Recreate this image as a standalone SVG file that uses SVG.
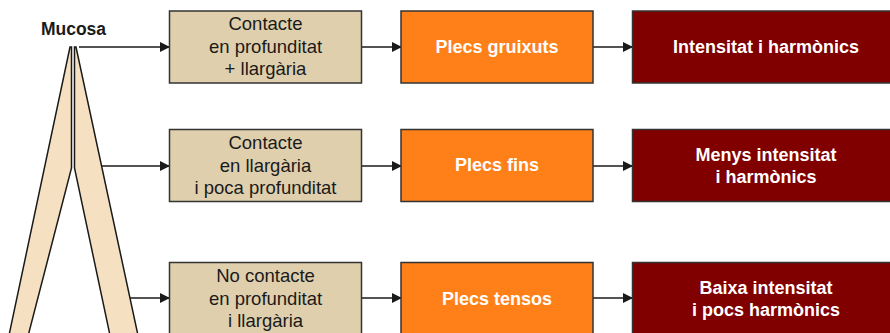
<svg xmlns="http://www.w3.org/2000/svg" width="890" height="333" viewBox="0 0 890 333">
  <defs>
    <marker id="arrow" markerWidth="10" markerHeight="10" refX="9" refY="5" orient="auto" markerUnits="userSpaceOnUse">
      <path d="M0,0 L10,5 L0,10 Z" fill="#1a1a1a"/>
    </marker>
    <style>
      text { font-family: "Liberation Sans", Arial, sans-serif; font-size: 18.5px; text-anchor: middle; }
      .tan { fill: #E0CFAD; stroke: #333; stroke-width: 1.5; }
      .orange { fill: #FF7F18; stroke: #333; stroke-width: 1.5; }
      .red { fill: #800000; stroke: #333; stroke-width: 1.5; }
      .dark { fill: #1a1a1a; }
      .white { fill: #fff; font-weight: bold; font-size: 18px; }
      .fold { fill: #F5E1C2; stroke: #1a1a1a; stroke-width: 1.5; stroke-linejoin: miter; }
      .conn { stroke: #1a1a1a; stroke-width: 1.5; fill: none; marker-end: url(#arrow); }
    </style>
  </defs>
  <rect width="890" height="333" fill="#fff"/>

  <!-- vocal fold mucosa -->
  <g id="mucosa">
    <polygon class="fold" points="70,47 71.5,47 71.5,168 27,340 8,340"/>
    <polygon class="fold" points="74.5,47 76,47 139,340 111,340 74.5,168"/>
    <text x="73.5" y="35" class="dark" style="font-weight:bold;font-size:17.5px">Mucosa</text>
  </g>

  <!-- connectors -->
  <g id="connectors">
    <line class="conn" x1="79" y1="47" x2="169" y2="47"/>
    <line class="conn" x1="101" y1="166" x2="169" y2="166"/>
    <line class="conn" x1="130" y1="298" x2="169" y2="298"/>
    <line class="conn" x1="362" y1="47" x2="401" y2="47"/>
    <line class="conn" x1="362" y1="166" x2="401" y2="166"/>
    <line class="conn" x1="362" y1="298" x2="401" y2="298"/>
    <line class="conn" x1="593" y1="47" x2="632" y2="47"/>
    <line class="conn" x1="593" y1="166" x2="632" y2="166"/>
    <line class="conn" x1="593" y1="298" x2="632" y2="298"/>
  </g>

  <!-- row 1 -->
  <g id="contact1">
    <rect class="tan" x="169.5" y="11" width="192" height="72"/>
    <text x="265.5" y="30" class="dark">Contacte</text>
    <text x="265.5" y="52.5" class="dark">en profunditat</text>
    <text x="265.5" y="75" class="dark">+ llargària</text>
  </g>
  <g id="plecs1">
    <rect class="orange" x="401" y="11" width="192" height="72"/>
    <text x="497" y="53" class="white">Plecs gruixuts</text>
  </g>
  <g id="result1">
    <rect class="red" x="632.5" y="11" width="260" height="72"/>
    <text x="766" y="53" class="white">Intensitat i harmònics</text>
  </g>

  <!-- row 2 -->
  <g id="contact2">
    <rect class="tan" x="169.5" y="129.5" width="192" height="72"/>
    <text x="265.5" y="149" class="dark">Contacte</text>
    <text x="265.5" y="171.5" class="dark">en llargària</text>
    <text x="265.5" y="194" class="dark">i poca profunditat</text>
  </g>
  <g id="plecs2">
    <rect class="orange" x="401" y="129.5" width="192" height="72"/>
    <text x="497" y="171" class="white">Plecs fins</text>
  </g>
  <g id="result2">
    <rect class="red" x="632.5" y="129.5" width="260" height="72"/>
    <text x="766" y="161" class="white">Menys intensitat</text>
    <text x="766" y="183" class="white">i harmònics</text>
  </g>

  <!-- row 3 -->
  <g id="contact3">
    <rect class="tan" x="169.5" y="262.5" width="192" height="72"/>
    <text x="265.5" y="282" class="dark">No contacte</text>
    <text x="265.5" y="304.5" class="dark">en profunditat</text>
    <text x="265.5" y="327" class="dark">i llargària</text>
  </g>
  <g id="plecs3">
    <rect class="orange" x="401" y="262.5" width="192" height="72"/>
    <text x="497" y="305" class="white">Plecs tensos</text>
  </g>
  <g id="result3">
    <rect class="red" x="632.5" y="262.5" width="260" height="72"/>
    <text x="766" y="294" class="white">Baixa intensitat</text>
    <text x="766" y="316" class="white">i pocs harmònics</text>
  </g>
</svg>
